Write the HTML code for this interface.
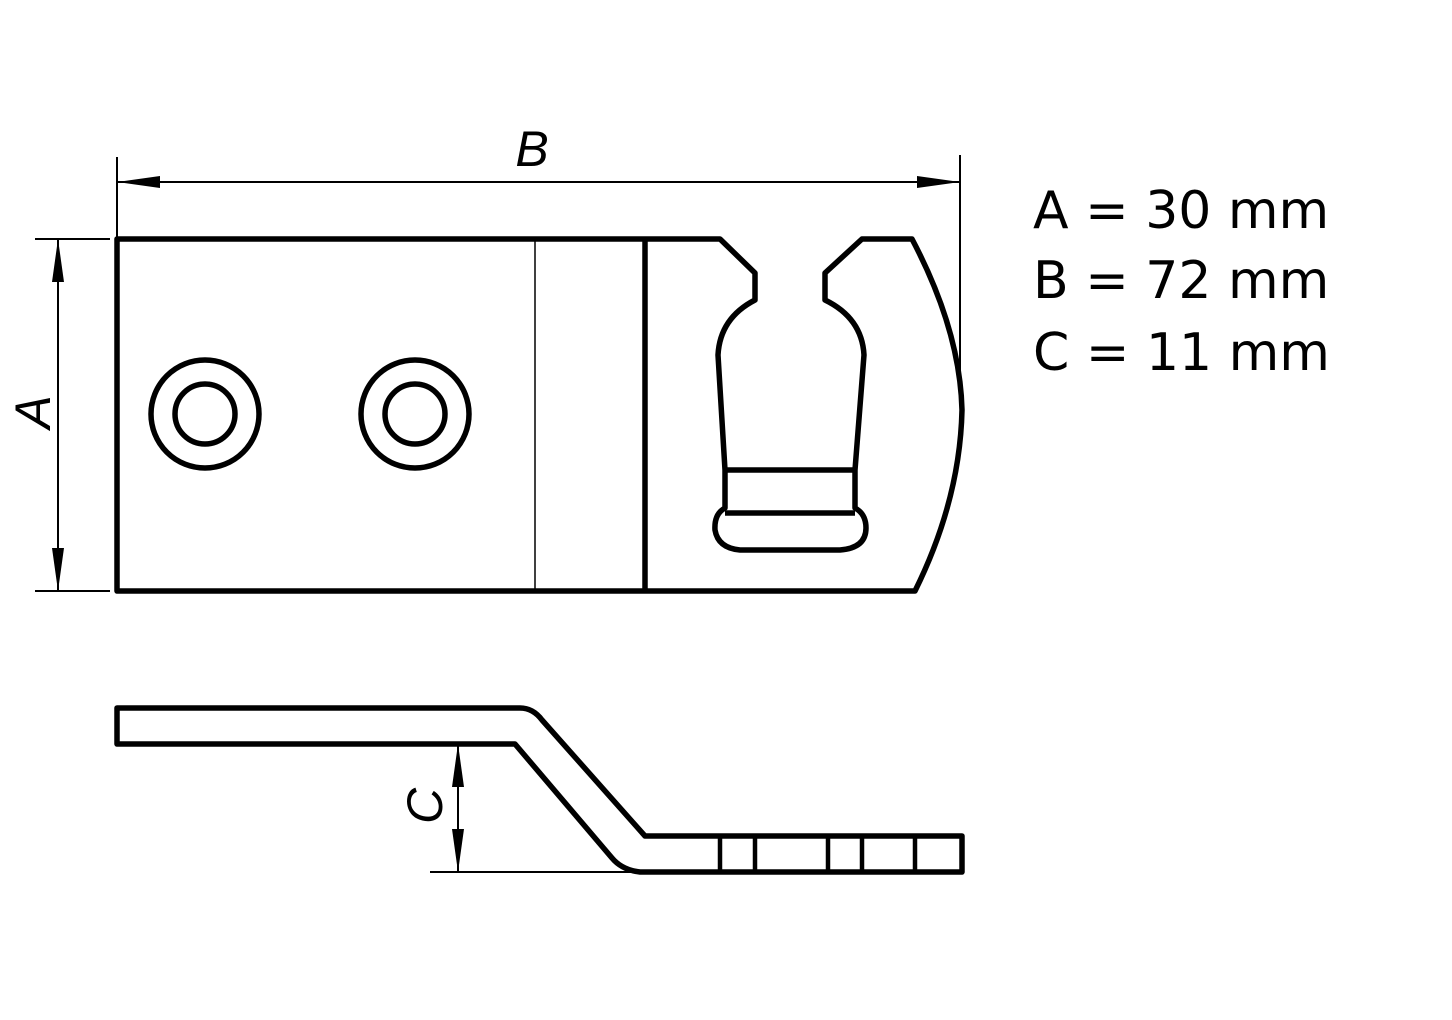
<!DOCTYPE html><html><head><style>body{margin:0;background:#fff}</style></head><body>
<svg width="1452" height="1020" xmlns="http://www.w3.org/2000/svg" style="display:block">
<rect width="1452" height="1020" fill="#fff"/>
<g fill="none" stroke="#000" stroke-linejoin="round">
<path stroke-width="5.5" d="M117,239 L720,239 L755,273 L755,300 Q720,318 718,355 L725,470 L725,508 Q714,514 715,530 Q718,548 740,550 L840,550 Q866,548 866,528 Q866,514 855,508 L855,470 L864,355 Q862,318 825,300 L825,273 L862,239 L912,239 Q960,330 962,410 Q960,500 915,591 L117,591 Z"/>
<line x1="725" y1="470" x2="855" y2="470" stroke-width="5.5"/>
<line x1="725" y1="513" x2="855" y2="513" stroke-width="5.5"/>
<line x1="645" y1="239" x2="645" y2="591" stroke-width="5.5"/>
<line x1="535" y1="239" x2="535" y2="591" stroke-width="1.5"/>
<circle cx="205" cy="414" r="54" stroke-width="5.5"/><circle cx="205" cy="414" r="30" stroke-width="5.5"/>
<circle cx="415" cy="414" r="54" stroke-width="5.5"/><circle cx="415" cy="414" r="30" stroke-width="5.5"/>
<g stroke-width="2">
<line x1="117" y1="157" x2="117" y2="239"/><line x1="960" y1="155" x2="960" y2="405"/>
<line x1="117" y1="182" x2="960" y2="182"/>
<line x1="35" y1="239" x2="110" y2="239"/><line x1="35" y1="591" x2="110" y2="591"/>
<line x1="58" y1="239" x2="58" y2="591"/>
<line x1="458" y1="744" x2="458" y2="872"/><line x1="430" y1="872" x2="640" y2="872"/>
</g>
<path stroke-width="5.5" d="M117,708 L520,708 Q533,708 542,720 L645,836 L962,836 L962,872 L640,872 Q622,870 612,858 L515,744 L117,744 Z"/>
<g stroke-width="4.5"><line x1="720" y1="836" x2="720" y2="872"/><line x1="755" y1="836" x2="755" y2="872"/><line x1="828" y1="836" x2="828" y2="872"/><line x1="862" y1="836" x2="862" y2="872"/><line x1="915" y1="836" x2="915" y2="872"/></g>
</g>
<g fill="#000">
<path d="M117,182 L160,176 L160,188 Z"/><path d="M960,182 L917,176 L917,188 Z"/>
<path d="M58,239 L52,282 L64,282 Z"/><path d="M58,591 L52,548 L64,548 Z"/>
<path d="M458,744 L452,787 L464,787 Z"/><path d="M458,872 L452,829 L464,829 Z"/>
</g>
<g font-family="Liberation Sans, sans-serif" fill="#000">
<text x="532" y="166" font-size="50" font-style="italic" text-anchor="middle">B</text>
<text transform="translate(50,412) rotate(-90)" font-size="50" font-style="italic" text-anchor="middle">A</text>
<text transform="translate(442,806) rotate(-90)" font-size="50" font-style="italic" text-anchor="middle">C</text>
</g>
<g font-family="DejaVu Sans, sans-serif" fill="#000" font-size="52">
<text x="1033" y="228">A = 30 mm</text>
<text x="1033" y="298">B = 72 mm</text>
<text x="1033" y="370">C = 11 mm</text>
</g>
</svg></body></html>
